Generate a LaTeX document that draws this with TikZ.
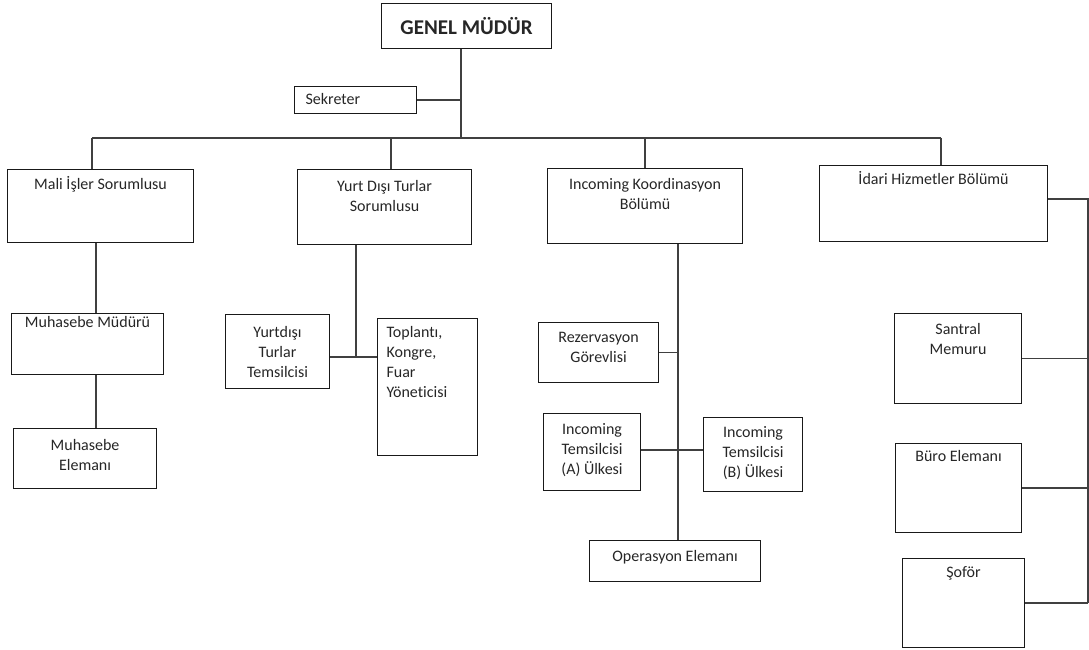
\documentclass[tikz,border=0pt]{standalone}
\usepackage{fontspec}
\setmainfont{Carlito}[Ligatures=NoCommon]
\newcommand{\bx}[4]{\parbox[c][#2pt][t]{#1pt}{\centering\vspace*{#3pt}\strut #4\par}}
\newcommand{\bxl}[5]{\parbox[c][#2pt][t]{#1pt}{\raggedright\leftskip=#5pt\vspace*{#3pt}\strut #4\par}}
\begin{document}
\begin{tikzpicture}[x=1pt,y=-1pt,
  orgbox/.style={draw=black!90, line width=1.1pt, inner sep=0pt, anchor=north west,
    font=\fontsize{16}{20}\selectfont, text=black!85},
  link/.style={draw=black!75, line width=1.4pt}]
\useasboundingbox (0,0) rectangle (1089,650);
% boxes
\node[orgbox, font=\fontsize{21}{24}\bfseries] (gm) at (381,3) {\parbox[c][45pt][c]{170pt}{\centering GENEL MÜDÜR}};
\node[orgbox] (sek) at (294,86) {\bxl{122}{27}{4}{Sekreter}{11}};
\node[orgbox] (mali) at (7,169) {\bx{186}{73}{6}{Mali İşler Sorumlusu}};
\node[orgbox] (yurt) at (297,169) {\bx{174}{75}{8}{Yurt Dışı Turlar\\Sorumlusu}};
\node[orgbox] (koord) at (547,168) {\bx{195}{75}{7}{Incoming Koordinasyon\\Bölümü}};
\node[orgbox] (idari) at (819,165) {\bx{228}{76}{5}{İdari Hizmetler Bölümü}};
\node[orgbox] (mm) at (11,313) {\bx{152}{61}{0}{Muhasebe Müdürü}};
\node[orgbox] (me) at (13,428) {\bx{143}{60}{8}{Muhasebe\\Elemanı}};
\node[orgbox] (ytt) at (225,314) {\bx{104}{74}{9}{Yurtdışı\\Turlar\\Temsilcisi}};
\node[orgbox] (top) at (377,318) {\bxl{100}{137}{5}{Toplantı,\\Kongre,\\Fuar\\Yöneticisi}{9}};
\node[orgbox] (rez) at (538,322) {\bx{120}{60}{6}{Rezervasyon\\Görevlisi}};
\node[orgbox] (inca) at (543,413) {\bx{97}{77}{7}{Incoming\\Temsilcisi\\(A) Ülkesi}};
\node[orgbox] (incb) at (703,417) {\bx{99}{74}{6}{Incoming\\Temsilcisi\\(B) Ülkesi}};
\node[orgbox] (oper) at (589,540) {\bx{171}{41}{7}{Operasyon Elemanı}};
\node[orgbox] (sant) at (894,313) {\bx{127}{90}{7}{Santral\\Memuru}};
\node[orgbox] (buro) at (895,443) {\bx{126}{89}{4}{Büro Elemanı}};
\node[orgbox] (sof) at (902,558) {\bx{122}{89}{5}{Şoför}};
% junction coordinates
\coordinate (c0) at (461,138);
\coordinate (b1) at (92,138);
\coordinate (b2) at (391,138);
\coordinate (b3) at (645,138);
\coordinate (b4) at (941,138);
\coordinate (xm) at (96,0);
\coordinate (xy) at (356,357);
\coordinate (xk) at (678,0);
\coordinate (xr) at (1088,0);
% connectors
\draw[link] (gm.south -| c0) -- (c0);
\draw[link] (sek.east) -- (sek.east -| c0);
\draw[link] (b1) -- (b4);
\draw[link] (b1) -- (b1 |- mali.north);
\draw[link] (b2) -- (b2 |- yurt.north);
\draw[link] (b3) -- (b3 |- koord.north);
\draw[link] (b4) -- (b4 |- idari.north);
\draw[link] (mali.south -| xm) -- (mm.north -| xm);
\draw[link] (mm.south -| xm) -- (me.north -| xm);
\draw[link] (yurt.south -| xy) -- (xy);
\draw[link] (ytt.east |- xy) -- (top.west |- xy);
\draw[link] (koord.south -| xk) -- (oper.north -| xk);
\draw[link] (rez.east) -- (rez.east -| xk);
\draw[link] (inca.east |- 0,450) -- (incb.west |- 0,450);
\draw[link] (idari.east |- 0,199) -- (xr |- 0,199) -- (xr |- sof.east);
\draw[link] (sant.east) -- (sant.east -| xr);
\draw[link] (buro.east) -- (buro.east -| xr);
\draw[link] (sof.east) -- (sof.east -| xr);
\end{tikzpicture}
\end{document}
